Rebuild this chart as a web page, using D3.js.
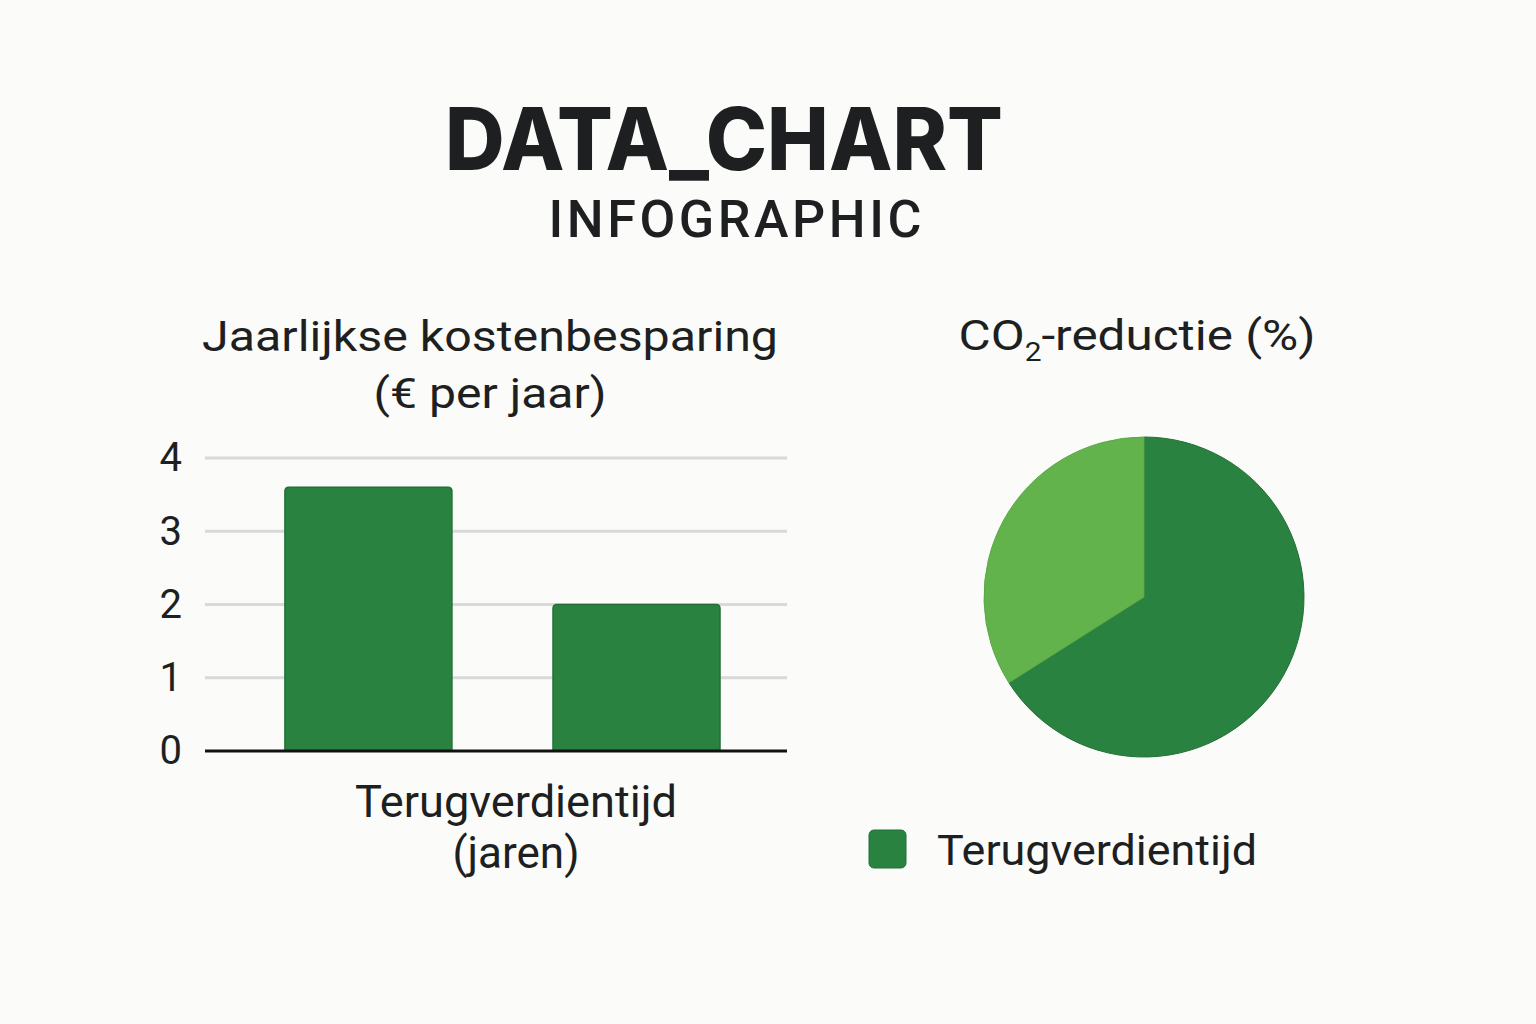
<!DOCTYPE html>
<html>
<head>
<meta charset="utf-8">
<script src="https://cdn.jsdelivr.net/npm/d3@7"></script>
<style>
  html, body { margin: 0; padding: 0; background: #fbfbf9; }
  svg { display: block; }
  text { fill: #1d1f21; }
</style>
</head>
<body>
<div id="chart"></div>
<script>
// bar chart data
var barCategories = ["kostenbesparing", "terugverdientijd"];
var barValues = [3.6, 2.0];
var yTicks = [0, 1, 2, 3, 4];

// pie data
var pieLabels = ["Terugverdientijd", "Overig"];
var pieValues = [66, 34];
var pieColors = ["#2a8241", "#62b34c"];

var width = 1536,
    height = 1024;

var svg = d3.select("#chart").append("svg")
    .attr("width", width)
    .attr("height", height);

svg.append("rect")
    .attr("width", width)
    .attr("height", height)
    .attr("fill", "#fbfbf9");

// titles
svg.append("text")
    .attr("x", 724)
    .attr("y", 170)
    .attr("text-anchor", "middle")
    .style("font-family", "Inter")
    .style("font-weight", 800)
    .style("font-size", "86px")
    .attr("textLength", 558)
    .attr("lengthAdjust", "spacingAndGlyphs")
    .text("DATA_CHART");

svg.append("text")
    .attr("x", 735)
    .attr("y", 237)
    .attr("text-anchor", "middle")
    .style("font-family", "Roboto")
    .style("font-weight", 500)
    .style("font-size", "52px")
    .attr("textLength", 373)
    .attr("lengthAdjust", "spacing")
    .text("INFOGRAPHIC");

/** bar chart */
var plotLeft = 205,
    plotRight = 787,
    plotTop = 458,
    plotBottom = 751;

var x = d3.scaleBand()
    .domain(barCategories)
    .range([plotLeft, plotRight])
    .paddingInner(0.377)
    .paddingOuter(0.274)
    .align(0.544);

var y = d3.scaleLinear()
    .domain([0, 4])
    .range([plotBottom, plotTop]);

var bars = svg.append("g").attr("class", "bar-chart");

bars.append("text")
    .attr("x", 490)
    .attr("y", 351)
    .attr("text-anchor", "middle")
    .style("font-family", "Roboto")
    .style("font-weight", 400)
    .style("font-size", "43px")
    .attr("textLength", 576)
    .attr("lengthAdjust", "spacingAndGlyphs")
    .text("Jaarlijkse kostenbesparing");

bars.append("text")
    .attr("x", 490)
    .attr("y", 408)
    .attr("text-anchor", "middle")
    .style("font-family", "Roboto")
    .style("font-weight", 400)
    .style("font-size", "43px")
    .attr("textLength", 233)
    .attr("lengthAdjust", "spacingAndGlyphs")
    .text("(€ per jaar)");

// gridlines
bars.selectAll(".grid")
    .data(yTicks.filter(function(d) { return d > 0; }))
    .enter().append("line")
    .attr("class", "grid")
    .attr("x1", plotLeft)
    .attr("x2", plotRight)
    .attr("y1", function(d) { return y(d); })
    .attr("y2", function(d) { return y(d); })
    .attr("stroke", "#d9d9d9")
    .attr("stroke-width", 3);

// y axis labels
var yAxis = bars.append("g")
    .attr("transform", "translate(" + (plotLeft - 23) + ",0)")
    .call(d3.axisLeft(y).tickValues(yTicks).tickFormat(d3.format("d")).tickSize(0).tickPadding(0));
yAxis.select(".domain").remove();
yAxis.selectAll("text")
    .style("font-family", "Roboto")
    .style("font-size", "40px")
    .attr("fill", "#1d1f21");

// bars with rounded top corners
function barPath(x0, y0, w, h, r) {
    return "M" + x0 + "," + (y0 + h) +
        "V" + (y0 + r) +
        "Q" + x0 + "," + y0 + " " + (x0 + r) + "," + y0 +
        "H" + (x0 + w - r) +
        "Q" + (x0 + w) + "," + y0 + " " + (x0 + w) + "," + (y0 + r) +
        "V" + (y0 + h) + "Z";
}

bars.selectAll(".bar")
    .data(barValues)
    .enter().append("path")
    .attr("class", "bar")
    .attr("d", function(d, i) {
        return barPath(x(barCategories[i]), y(d), x.bandwidth(), y(0) - y(d), 4);
    })
    .attr("fill", "#2a8241")
    .attr("stroke", "#237038")
    .attr("stroke-width", 1.5);

// baseline
bars.append("line")
    .attr("x1", plotLeft)
    .attr("x2", plotRight)
    .attr("y1", y(0))
    .attr("y2", y(0))
    .attr("stroke", "#111")
    .attr("stroke-width", 3);

bars.append("text")
    .attr("x", 516)
    .attr("y", 817)
    .attr("text-anchor", "middle")
    .style("font-family", "Roboto")
    .style("font-size", "44px")
    .attr("textLength", 322)
    .attr("lengthAdjust", "spacingAndGlyphs")
    .text("Terugverdientijd");

bars.append("text")
    .attr("x", 516)
    .attr("y", 868)
    .attr("text-anchor", "middle")
    .style("font-family", "Roboto")
    .style("font-size", "44px")
    .text("(jaren)");

/** pie chart */
var pieGroup = svg.append("g")
    .attr("class", "pie-chart")
    .attr("transform", "translate(1144,597)");

var pie = d3.pie()
    .sort(null)
    .value(function(d) { return d; });

var arc = d3.arc()
    .innerRadius(0)
    .outerRadius(160);

pieGroup.selectAll(".slice")
    .data(pie(pieValues))
    .enter().append("path")
    .attr("class", "slice")
    .attr("d", arc)
    .attr("fill", function(d, i) { return pieColors[i]; })
    .attr("stroke", function(d, i) { return i === 0 ? "#237038" : "#5aa847"; })
    .attr("stroke-width", 1);

var pieTitle = svg.append("text")
    .attr("x", 1137)
    .attr("y", 350)
    .attr("text-anchor", "middle")
    .style("font-family", "Roboto")
    .style("font-weight", 400)
    .style("font-size", "43px")
    .attr("textLength", 357)
    .attr("lengthAdjust", "spacingAndGlyphs");
pieTitle.append("tspan").text("CO");
pieTitle.append("tspan")
    .attr("dy", 11)
    .style("font-size", "26px")
    .text("2");
pieTitle.append("tspan")
    .attr("dy", -11)
    .text("-reductie (%)");

// legend
var legend = svg.append("g")
    .attr("class", "legend")
    .attr("transform", "translate(869,830)");

legend.append("rect")
    .attr("width", 37)
    .attr("height", 38)
    .attr("rx", 5)
    .attr("fill", pieColors[0])
    .attr("stroke", "#237038")
    .attr("stroke-width", 1);

legend.append("text")
    .attr("x", 68)
    .attr("y", 35)
    .style("font-family", "Roboto")
    .style("font-size", "42px")
    .attr("textLength", 320)
    .attr("lengthAdjust", "spacingAndGlyphs")
    .text(pieLabels[0]);
</script>
</body>
</html>
